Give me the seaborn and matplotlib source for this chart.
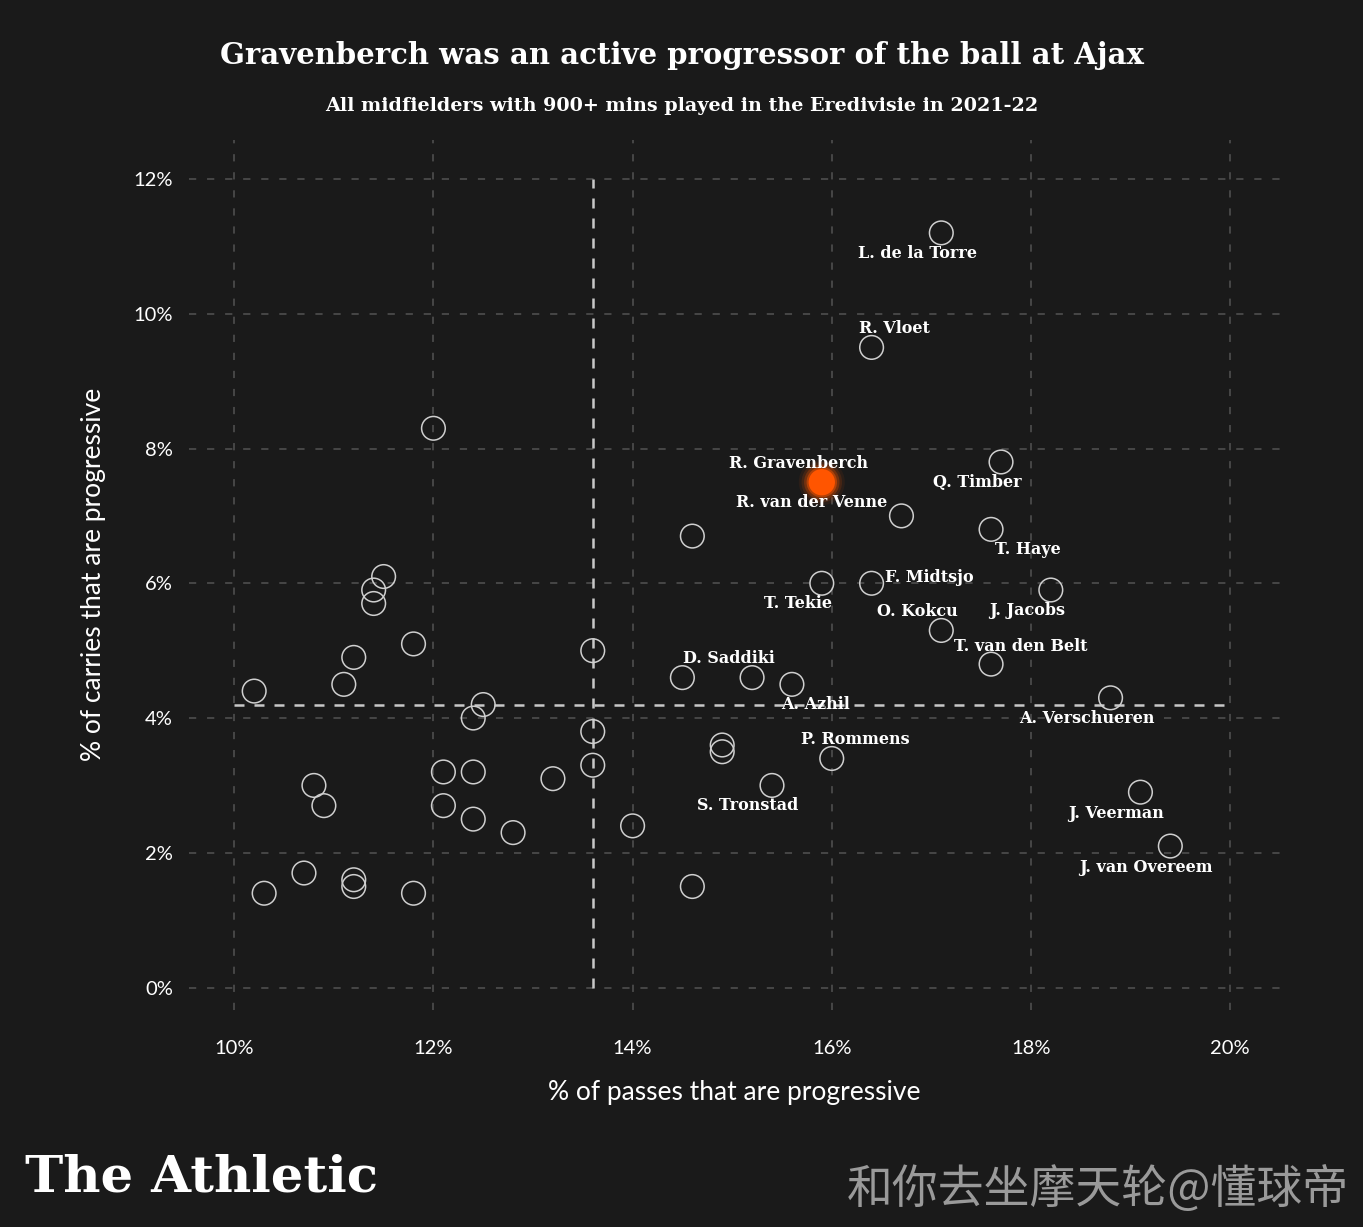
import matplotlib
matplotlib.use("Agg")
import matplotlib.pyplot as plt
import seaborn as sns
import pandas as pd

# % of passes that are progressive / % of carries that are progressive
unlabelled_pass = [10.2, 10.3, 10.7, 10.8, 10.9, 11.1, 11.2, 11.2, 11.2, 11.4, 11.4, 11.5,
                   11.8, 11.8, 12.0, 12.1, 12.1, 12.4, 12.5, 12.4, 12.4, 12.8, 13.2, 13.6,
                   13.6, 13.6, 14.0, 14.6, 14.6, 15.2, 14.9, 14.9]
unlabelled_carry = [4.4, 1.4, 1.7, 3.0, 2.7, 4.5, 4.9, 1.6, 1.5, 5.9, 5.7, 6.1,
                    5.1, 1.4, 8.3, 3.2, 2.7, 4.0, 4.2, 3.2, 2.5, 2.3, 3.1, 5.0,
                    3.8, 3.3, 2.4, 1.5, 6.7, 4.6, 3.6, 3.5]

players = ["L. de la Torre", "R. Vloet", "R. Gravenberch", "R. van der Venne", "Q. Timber",
           "T. Haye", "F. Midtsjo", "T. Tekie", "O. Kokcu", "J. Jacobs", "T. van den Belt",
           "D. Saddiki", "A. Azhil", "A. Verschueren", "P. Rommens", "S. Tronstad",
           "J. Veerman", "J. van Overeem"]
player_pass = [17.1, 16.4, 15.9, 16.7, 17.7, 17.6, 16.4, 15.9, 17.1, 18.2, 17.6,
               14.5, 15.6, 18.8, 16.0, 15.4, 19.1, 19.4]
player_carry = [11.2, 9.5, 7.5, 7.0, 7.8, 6.8, 6.0, 6.0, 5.3, 5.9, 4.8,
                4.6, 4.5, 4.3, 3.4, 3.0, 2.9, 2.1]
# label offsets in pixels (dx, dy) from each point
label_dx = [-24, 23, -23, -90, -24, 37, 58, -24, -24, -24, 30, 46, 24, -24, 24, -24, -24, -24]
label_dy = [-21, 19, 19, 13, -21, -20, 6, -20, 19, -20, 18, 19, -20, -21, 19, -20, -21, -21]

median_pass = 13.6
median_carry = 4.2

BG = "#1a1a1a"

df = pd.DataFrame({
    "passes": unlabelled_pass + player_pass,
    "carries": unlabelled_carry + player_carry,
    "name": [""] * len(unlabelled_pass) + players,
})
df["highlight"] = df["name"] == "R. Gravenberch"

sns.set_style("dark")
plt.rcParams["font.family"] = ["Lato", "DejaVu Sans"]

fig = plt.figure(figsize=(13.63, 12.27), dpi=100, facecolor=BG)
ax = fig.add_axes([0.139, 0.177, 0.80, 0.709])
ax.set_facecolor(BG)

ax.set_xlim(9.55, 20.5)
ax.set_ylim(-0.33, 12.58)

# grid
for xv in [10, 12, 14, 16, 18, 20]:
    ax.axvline(xv, color="#4a4a4a", lw=1.3, ls=(0, (4, 6)), zorder=0)
for yv in [0, 2, 4, 6, 8, 10, 12]:
    ax.axhline(yv, color="#4a4a4a", lw=1.3, ls=(0, (4, 6)), zorder=0)

# median lines
ax.plot([median_pass, median_pass], [0, 12], color="#c8c8c8", lw=1.8, ls=(0, (4, 4)), zorder=1)
ax.plot([10, 20], [median_carry, median_carry], color="#c8c8c8", lw=1.8, ls=(0, (4, 4)), zorder=1)

others = df[~df["highlight"]]
sns.scatterplot(data=others, x="passes", y="carries", s=290, facecolor="none",
                edgecolor="#cfcfcf", linewidth=1.1, ax=ax, zorder=3, legend=False)

# glowing highlight
hl = df[df["highlight"]]
for size, alpha in [(1100, 0.07), (850, 0.13), (650, 0.25), (480, 0.45), (360, 1.0)]:
    sns.scatterplot(data=hl, x="passes", y="carries", s=size, color="#ff5500",
                    edgecolor="none", alpha=alpha, ax=ax, zorder=4, legend=False)

for name, px, py, dx, dy in zip(players, player_pass, player_carry, label_dx, label_dy):
    ax.annotate(name, (px, py), xytext=(dx * 0.72, dy * 0.72), textcoords="offset points",
                ha="center", va="center", color="white", fontsize=11.5,
                fontweight="bold", family="DejaVu Serif", zorder=5)

ax.set_xticks([10, 12, 14, 16, 18, 20])
ax.set_xticklabels([f"{v}%" for v in [10, 12, 14, 16, 18, 20]])
ax.set_yticks([0, 2, 4, 6, 8, 10, 12])
ax.set_yticklabels([f"{v}%" for v in [0, 2, 4, 6, 8, 10, 12]])
ax.tick_params(colors="white", labelsize=14.5, length=0)
ax.tick_params(axis="x", pad=22)
ax.tick_params(axis="y", pad=12)
ax.set_xlabel("% of passes that are progressive", color="white", fontsize=19, labelpad=16)
ax.set_ylabel("% of carries that are progressive", color="white", fontsize=19, labelpad=20)
for sp in ax.spines.values():
    sp.set_visible(False)
ax.grid(False)

fig.text(0.5, 0.955, "Gravenberch was an active progressor of the ball at Ajax", ha="center",
         va="center", color="white", fontsize=21, fontweight="bold", family="DejaVu Serif")
fig.text(0.5, 0.914, "All midfielders with 900+ mins played in the Eredivisie in 2021-22", ha="center",
         va="center", color="white", fontsize=13.8, fontweight="bold", family="DejaVu Serif")

fig.text(0.018, 0.04, "The Athletic", ha="left", va="center", color="white", fontsize=37,
         fontweight="bold", family="DejaVu Serif")
fig.text(0.99, 0.03, "和你去坐摩天轮@懂球帝", ha="right", va="center", color="#9a9a9a",
         fontsize=33, family=["Noto Sans CJK SC", "DejaVu Sans"])

fig.savefig("out.png", dpi=100, facecolor=BG)
